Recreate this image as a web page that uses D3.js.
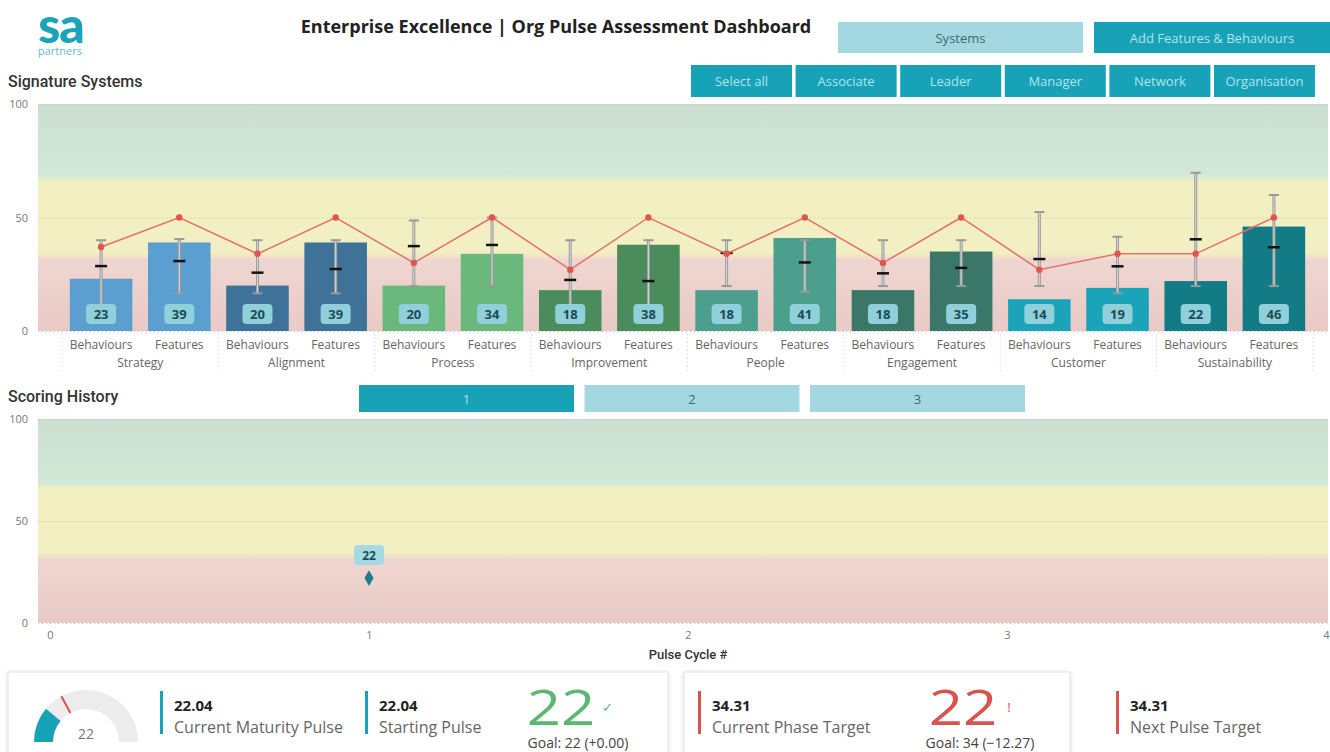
<!DOCTYPE html>
<html>
<head>
<meta charset="utf-8">
<script src="https://cdn.jsdelivr.net/npm/d3@7"></script>
<style>
  body { margin: 0; background: #fff; }
  text { font-family: "Open Sans", "Noto Sans", sans-serif; }
</style>
</head>
<body>
<div id="dash"></div>
<script>
// chart values
var groups = ["Strategy", "Alignment", "Process", "Improvement", "People", "Engagement", "Customer", "Sustainability"];
var types = ["Behaviours", "Features"];
var scores = [23, 39, 20, 39, 20, 34, 18, 38, 18, 41, 18, 35, 14, 19, 22, 46];
var targets = [37, 50, 34, 50, 30, 50, 27, 50, 34, 50, 30, 50, 27, 34, 34, 50];
var errHigh = [40, 40.5, 40, 40, 48.7, 50, 40, 40, 40, 40, 40, 40, 52.4, 41.5, 69.7, 59.9];
var errLow = [10, 16.6, 16.6, 16.6, 19.8, 19.8, 10, 10, 19.8, 17.3, 19.8, 19.8, 19.8, 16.6, 19.8, 19.8];
var errMean = [28.6, 30.8, 25.7, 27.3, 37.4, 37.9, 22.5, 22, 34.4, 30.2, 25.4, 27.8, 31.7, 28.5, 40.4, 36.9];
var groupColors = ["#5a9fcf", "#3e7298", "#6ab87c", "#4b8c5c", "#4c9f8c", "#3a7768", "#1aa3b9", "#127b86"];
var yTicks = [0, 50, 100];

var cycles = [1];
var cycleScores = [22];
var cycleTicks = [0, 1, 2, 3, 4];
var cycleButtons = ["1", "2", "3"];
var roleButtons = ["Select all", "Associate", "Leader", "Manager", "Network", "Organisation"];

var currentPulse = 22.04, startingPulse = 22.04, phaseTarget = 34.31, nextTarget = 34.31;

var W = 1330, H = 752;
var svg = d3.select("#dash").append("svg").attr("width", W).attr("height", H);
var defs = svg.append("defs");

// zone gradient: red (low) -> yellow -> green (high)
var grad = defs.append("linearGradient").attr("id", "zones")
    .attr("x1", 0).attr("y1", 1).attr("x2", 0).attr("y2", 0);
[[0, "#e9cac7"], [0.31, "#efd5d0"], [0.345, "#f2efc3"], [0.655, "#f2f0c0"], [0.69, "#d1e8d6"], [1, "#cbdfd1"]]
    .forEach(function (s) { grad.append("stop").attr("offset", s[0]).attr("stop-color", s[1]); });

var shadow = defs.append("filter").attr("id", "shadow").attr("x", -0.05).attr("y", -0.2).attr("width", 1.1).attr("height", 1.5);
shadow.append("feDropShadow").attr("dx", 0).attr("dy", 1).attr("stdDeviation", 2).attr("flood-color", "#000").attr("flood-opacity", 0.15);

// ---------- header ----------
svg.append("text").attr("x", 61).attr("y", 43).attr("text-anchor", "middle")
    .style("font-family", "Lato, sans-serif").style("font-weight", 900).style("font-size", "50px")
    .style("letter-spacing", "-1px").style("fill", "#1aa3b9").text("sa");
svg.append("text").attr("x", 60).attr("y", 55).attr("text-anchor", "middle")
    .style("font-size", "11px").style("fill", "#5fbccb").text("partners");

svg.append("text").attr("x", 556).attr("y", 33).attr("text-anchor", "middle")
    .style("font-weight", 700).style("font-size", "18px").style("fill", "#222")
    .text("Enterprise Excellence | Org Pulse Assessment Dashboard");

function button(x, y, w, h, label, active) {
    svg.append("rect").attr("x", x).attr("y", y).attr("width", w).attr("height", h)
        .attr("fill", active ? "#17a2b8" : "#a3d8e1");
    svg.append("text").attr("x", x + w / 2).attr("y", y + h / 2 + 5).attr("text-anchor", "middle")
        .style("font-size", "13px").style("fill", active ? "#b4e3eb" : "#3f6870").text(label);
}
button(838, 22, 245, 31, "Systems", false);
button(1094, 22, 236, 31, "Add Features & Behaviours", true);
roleButtons.forEach(function (b, i) { button(691 + i * 104.6, 65, 101, 32, b, true); });

function sectionTitle(x, y, t) {
    svg.append("text").attr("x", x).attr("y", y)
        .style("font-family", "Roboto, sans-serif").style("font-weight", 500).style("font-size", "16px")
        .style("fill", "#333").text(t);
}
sectionTitle(8, 87, "Signature Systems");
sectionTitle(8, 402, "Scoring History");

// ---------- Signature Systems chart ----------
var y = d3.scaleLinear().domain([0, 100]).range([331, 104]);
var xGroup = d3.scaleBand().domain(groups).range([62, 1313]);
var xType = d3.scaleBand().domain(types).range([0, xGroup.bandwidth()]).paddingInner(0.2).paddingOuter(0.1);

var rows = [];
groups.forEach(function (g, gi) {
    types.forEach(function (t, ti) {
        var i = gi * 2 + ti;
        rows.push({ group: g, type: t, gi: gi, score: scores[i], target: targets[i], hi: errHigh[i], lo: errLow[i], mean: errMean[i] });
    });
});
function cx(d) { return xGroup(d.group) + xType(d.type) + xType.bandwidth() / 2; }

var main = svg.append("g");
main.append("rect").attr("x", 38).attr("y", y(100)).attr("width", 1290).attr("height", y(0) - y(100)).attr("fill", "url(#zones)");

var yAxisTop = main.append("g").attr("transform", "translate(28,0)")
    .call(d3.axisLeft(y).tickValues(yTicks).tickSize(0));
yAxisTop.select(".domain").remove();
yAxisTop.selectAll("text").style("font-size", "11px").style("fill", "#777").attr("x", 0);
yAxisTop.selectAll(".tick").append("line").attr("x1", 10).attr("x2", 1300)
    .attr("stroke", "#bbb").attr("stroke-dasharray", "1,3");

main.selectAll(".bar").data(rows).enter().append("rect")
    .attr("x", function (d) { return cx(d) - xType.bandwidth() / 2; })
    .attr("y", function (d) { return y(d.score); })
    .attr("width", xType.bandwidth())
    .attr("height", function (d) { return y(0) - y(d.score); })
    .attr("fill", function (d) { return groupColors[d.gi]; });

// error bars
var eb = main.selectAll(".eb").data(rows).enter().append("g");
eb.append("line").attr("x1", cx).attr("x2", cx)
    .attr("y1", function (d) { return y(d.hi); }).attr("y2", function (d) { return y(d.lo); })
    .attr("stroke", "#9c9c9c").attr("stroke-width", 3);
eb.append("line").attr("x1", cx).attr("x2", cx)
    .attr("y1", function (d) { return y(d.hi); }).attr("y2", function (d) { return y(d.lo); })
    .attr("stroke", "#d8d8d8").attr("stroke-width", 1);
["hi", "lo"].forEach(function (k) {
    eb.append("line").attr("x1", function (d) { return cx(d) - 5; }).attr("x2", function (d) { return cx(d) + 5; })
        .attr("y1", function (d) { return y(d[k]); }).attr("y2", function (d) { return y(d[k]); })
        .attr("stroke", "#999").attr("stroke-width", 2);
});
eb.append("line").attr("x1", function (d) { return cx(d) - 6; }).attr("x2", function (d) { return cx(d) + 6; })
    .attr("y1", function (d) { return y(d.mean); }).attr("y2", function (d) { return y(d.mean); })
    .attr("stroke", "#111").attr("stroke-width", 2.5);

// target line
main.append("path").datum(rows)
    .attr("d", d3.line().x(cx).y(function (d) { return y(d.target); }))
    .attr("fill", "none").attr("stroke", "#e3716a").attr("stroke-width", 1.5);
main.selectAll(".tdot").data(rows).enter().append("circle")
    .attr("cx", cx).attr("cy", function (d) { return y(d.target); }).attr("r", 3.2)
    .attr("fill", "#e05550");

// value labels
var vl = main.selectAll(".vl").data(rows).enter().append("g")
    .attr("transform", function (d) { return "translate(" + cx(d) + "," + 314 + ")"; });
vl.append("rect").attr("x", -15).attr("y", -10).attr("width", 30).attr("height", 20).attr("rx", 4)
    .attr("fill", "#8fd0da");
vl.append("text").attr("y", 5).attr("text-anchor", "middle")
    .style("font-size", "13px").style("font-weight", 700).style("fill", "#1d4b57")
    .text(function (d) { return d.score; });

// category axes
groups.forEach(function (g) {
    var a = main.append("g").attr("transform", "translate(" + xGroup(g) + ",337)")
        .call(d3.axisBottom(xType).tickSize(0));
    a.select(".domain").remove();
    a.selectAll("text").style("font-size", "12px").style("fill", "#666");
});
var ga = main.append("g").attr("transform", "translate(0,355)")
    .call(d3.axisBottom(xGroup).tickSize(0));
ga.select(".domain").remove();
ga.selectAll("text").style("font-size", "12px").style("fill", "#666");
main.selectAll(".sep").data(groups.concat(["end"])).enter().append("line")
    .attr("x1", function (d, i) { return i < groups.length ? xGroup(d) : 1313; })
    .attr("x2", function (d, i) { return i < groups.length ? xGroup(d) : 1313; })
    .attr("y1", 334).attr("y2", 373)
    .attr("stroke", "#ccc").attr("stroke-dasharray", "1,3");

// ---------- Scoring History ----------
cycleButtons.forEach(function (b, i) { button(359 + i * 225.5, 385, 215, 27, b, i === 0); });

var y2 = d3.scaleLinear().domain([0, 100]).range([623, 419]);
var x2 = d3.scaleLinear().domain([0, 4]).range([50, 1326]);
var hist = svg.append("g");
hist.append("rect").attr("x", 38).attr("y", y2(100)).attr("width", 1290).attr("height", y2(0) - y2(100)).attr("fill", "url(#zones)");

var yAxis2 = hist.append("g").attr("transform", "translate(28,0)")
    .call(d3.axisLeft(y2).tickValues(yTicks).tickSize(0));
yAxis2.select(".domain").remove();
yAxis2.selectAll("text").style("font-size", "11px").style("fill", "#777").attr("x", 0);
yAxis2.selectAll(".tick").append("line").attr("x1", 10).attr("x2", 1300)
    .attr("stroke", "#bbb").attr("stroke-dasharray", "1,3");

var xAxis2 = hist.append("g").attr("transform", "translate(0,628)")
    .call(d3.axisBottom(x2).tickValues(cycleTicks).tickSize(0).tickFormat(d3.format("d")));
xAxis2.select(".domain").remove();
xAxis2.selectAll("text").style("font-size", "11px").style("fill", "#777");
hist.append("text").attr("x", 688).attr("y", 659).attr("text-anchor", "middle")
    .style("font-family", "Roboto, sans-serif").style("font-weight", 500).style("font-size", "13px").style("fill", "#333")
    .text("Pulse Cycle #");

var pts = cycles.map(function (c, i) { return { c: c, v: cycleScores[i] }; });
hist.selectAll(".pt").data(pts).enter().append("path")
    .attr("d", d3.symbol().type(d3.symbolDiamond).size(70))
    .attr("transform", function (d) { return "translate(" + x2(d.c) + "," + y2(d.v) + ")"; })
    .attr("fill", "#1a7d8a");
var pl = hist.selectAll(".pl").data(pts).enter().append("g")
    .attr("transform", function (d) { return "translate(" + x2(d.c) + "," + (y2(d.v) - 23) + ")"; });
pl.append("rect").attr("x", -15).attr("y", -10).attr("width", 30).attr("height", 20).attr("rx", 4).attr("fill", "#a6dae2");
pl.append("text").attr("y", 5).attr("text-anchor", "middle")
    .style("font-size", "12px").style("font-weight", 700).style("fill", "#1d4b57")
    .text(function (d) { return d.v; });

// ---------- KPI cards ----------
svg.append("rect").attr("x", 8).attr("y", 672).attr("width", 660).attr("height", 100)
    .attr("fill", "#fff").attr("stroke", "#e2e2e2").attr("filter", "url(#shadow)");
svg.append("rect").attr("x", 684).attr("y", 672).attr("width", 386).attr("height", 100)
    .attr("fill", "#fff").attr("stroke", "#e2e2e2").attr("filter", "url(#shadow)");

// gauge
var gauge = svg.append("g").attr("transform", "translate(86,742)");
var ga0 = d3.scaleLinear().domain([0, 100]).range([-Math.PI / 2, Math.PI / 2]);
var arc = d3.arc().innerRadius(33).outerRadius(52);
gauge.append("path").attr("d", arc({ startAngle: ga0(0), endAngle: ga0(100) })).attr("fill", "#ececec");
gauge.append("path").attr("d", arc({ startAngle: ga0(0), endAngle: ga0(currentPulse) })).attr("fill", "#17a2b8");
var ta = ga0(phaseTarget);
gauge.append("line")
    .attr("x1", 33 * Math.sin(ta)).attr("y1", -33 * Math.cos(ta))
    .attr("x2", 52 * Math.sin(ta)).attr("y2", -52 * Math.cos(ta))
    .attr("stroke", "#d9534f").attr("stroke-width", 2);
gauge.append("text").attr("y", -3).attr("text-anchor", "middle")
    .style("font-size", "14px").style("fill", "#777").text(d3.format(".0f")(currentPulse));

function kpi(x, color, value, label) {
    svg.append("rect").attr("x", x).attr("y", 691).attr("width", 3).attr("height", 43).attr("fill", color);
    svg.append("text").attr("x", x + 14).attr("y", 711)
        .style("font-weight", 700).style("font-size", "15px").style("fill", "#222").text(d3.format(".2f")(value));
    svg.append("text").attr("x", x + 14).attr("y", 733)
        .style("font-size", "16px").style("fill", "#666").text(label);
}
kpi(160, "#17a2b8", currentPulse, "Current Maturity Pulse");
kpi(365, "#17a2b8", startingPulse, "Starting Pulse");
kpi(698, "#d9534f", phaseTarget, "Current Phase Target");
kpi(1116, "#d9534f", nextTarget, "Next Pulse Target");

function bigNumber(x, color, value, goal, mark) {
    svg.append("text").attr("x", x).attr("y", 725).attr("text-anchor", "middle")
        .attr("transform", "translate(" + x + ",0) scale(1.2,1) translate(" + (-x) + ",0)")
        .style("font-size", "50px").style("font-weight", 400).style("fill", color)
        .text(d3.format(".0f")(value));
    svg.append("text").attr("x", x + 46).attr("y", 712).attr("text-anchor", "middle")
        .style("font-size", "13px").style("fill", color).text(mark);
    var diff = value - goal;
    svg.append("text").attr("x", x + 17).attr("y", 748).attr("text-anchor", "middle")
        .style("font-size", "14px").style("fill", "#444")
        .text("Goal: " + d3.format(".0f")(goal) + " (" + (diff >= 0 ? "+" : "") + d3.format(".2f")(diff) + ")");
}
bigNumber(561, "#5cb870", currentPulse, startingPulse, "\u2713");
bigNumber(963, "#d9534f", currentPulse, phaseTarget, "!");
</script>
</body>
</html>
